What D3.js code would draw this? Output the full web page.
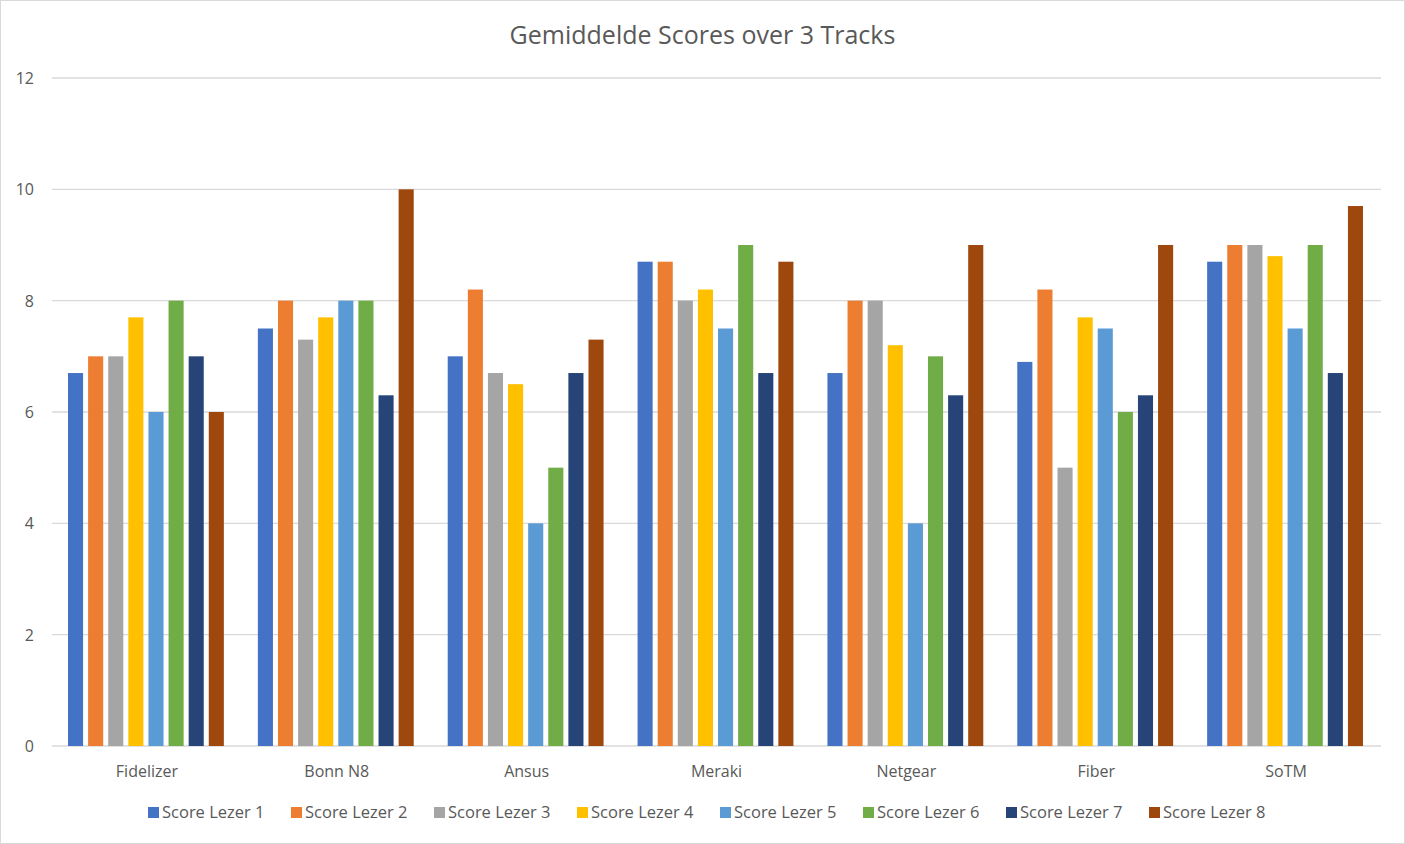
<!DOCTYPE html>
<html>
<head>
<meta charset="utf-8">
<script src="https://cdn.jsdelivr.net/npm/d3@7"></script>
<style>
  body { margin: 0; background: #fff; }
  svg text { font-family: "Open Sans", "Liberation Sans", sans-serif; fill: #595959; }
</style>
</head>
<body>
<div id="container"></div>
<script>
let w = 1405;
let h = 844;

let categories = ["Fidelizer", "Bonn N8", "Ansus", "Meraki", "Netgear", "Fiber", "SoTM"];
let seriesNames = ["Score Lezer 1", "Score Lezer 2", "Score Lezer 3", "Score Lezer 4",
                   "Score Lezer 5", "Score Lezer 6", "Score Lezer 7", "Score Lezer 8"];
let colors = ["#4472c4", "#ed7d31", "#a5a5a5", "#ffc000", "#5b9bd5", "#70ad47", "#264478", "#9e480e"];

let lezer1 = [6.7, 7.5, 7.0, 8.7, 6.7, 6.9, 8.7];
let lezer2 = [7.0, 8.0, 8.2, 8.7, 8.0, 8.2, 9.0];
let lezer3 = [7.0, 7.3, 6.7, 8.0, 8.0, 5.0, 9.0];
let lezer4 = [7.7, 7.7, 6.5, 8.2, 7.2, 7.7, 8.8];
let lezer5 = [6.0, 8.0, 4.0, 7.5, 4.0, 7.5, 7.5];
let lezer6 = [8.0, 8.0, 5.0, 9.0, 7.0, 6.0, 9.0];
let lezer7 = [7.0, 6.3, 6.7, 6.7, 6.3, 6.3, 6.7];
let lezer8 = [6.0, 10.0, 7.3, 8.7, 9.0, 9.0, 9.7];
let yTicks = [0, 2, 4, 6, 8, 10, 12];

let allSeries = [lezer1, lezer2, lezer3, lezer4, lezer5, lezer6, lezer7, lezer8];

let svg = d3.select("#container")
  .append("svg")
  .attr("width", w)
  .attr("height", h);

// chart border
svg.append("rect")
  .attr("x", 0.5).attr("y", 0.5)
  .attr("width", w - 1).attr("height", h - 1)
  .attr("fill", "#fff")
  .attr("stroke", "#d9d9d9");

let plotLeft = 52, plotRight = 1381, plotTop = 78, plotBottom = 746;

let x = d3.scaleBand().domain(categories).range([plotLeft, plotRight]).paddingInner(0).paddingOuter(0);
let y = d3.scaleLinear().domain([0, 12]).range([plotBottom, plotTop]);

// inner band for the 8 bars
let x1 = d3.scaleBand().domain(d3.range(8)).range([16, x.bandwidth() - 18]).paddingInner(0.25);

// gridlines
svg.append("g")
  .selectAll("line")
  .data(yTicks)
  .join("line")
  .attr("x1", plotLeft).attr("x2", plotRight)
  .attr("y1", d => y(d)).attr("y2", d => y(d))
  .attr("stroke", "#d9d9d9")
  .attr("stroke-width", 1.3);

// y labels
svg.append("g")
  .selectAll("text")
  .data(yTicks)
  .join("text")
  .attr("x", 34)
  .attr("y", d => y(d) + 6)
  .attr("text-anchor", "end")
  .attr("font-size", 16)
  .text(d => d);

// bars
let groups = svg.append("g")
  .selectAll("g")
  .data(categories)
  .join("g")
  .attr("transform", d => `translate(${x(d)},0)`);

groups.selectAll("rect")
  .data((c, ci) => allSeries.map((s, si) => ({ si: si, v: s[ci] })))
  .join("rect")
  .attr("x", d => x1(d.si))
  .attr("width", x1.bandwidth())
  .attr("y", d => y(d.v))
  .attr("height", d => y(0) - y(d.v))
  .attr("fill", d => colors[d.si]);

// x labels
svg.append("g")
  .selectAll("text")
  .data(categories)
  .join("text")
  .attr("x", d => x(d) + x.bandwidth() / 2)
  .attr("y", 777)
  .attr("text-anchor", "middle")
  .attr("font-size", 16)
  .attr("textLength", null)
  .text(d => d);

// title
svg.append("text")
  .attr("x", w / 2)
  .attr("y", 44)
  .attr("text-anchor", "middle")
  .attr("font-size", 25)
  .text("Gemiddelde Scores over 3 Tracks");

// legend
let legend = svg.append("g");
let legendStart = 148, legendStep = 143;
let items = legend.selectAll("g")
  .data(seriesNames)
  .join("g")
  .attr("transform", (d, i) => `translate(${legendStart + i * legendStep},807)`);

items.append("rect")
  .attr("width", 11).attr("height", 11)
  .attr("fill", (d, i) => colors[i]);

items.append("text")
  .attr("x", 14)
  .attr("y", 11)
  .attr("font-size", 16.5)
  .text(d => d);
</script>
</body>
</html>
